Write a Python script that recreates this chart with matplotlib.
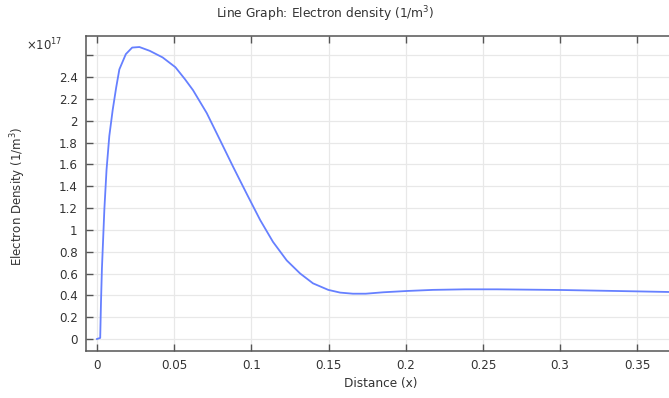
import matplotlib
matplotlib.use("Agg")
import matplotlib.pyplot as plt
import numpy as np

# electron density along the line, in units of 1e17 1/m^3
distance = [0, 0.0021, 0.0026, 0.0032, 0.0048, 0.0062, 0.008, 0.0102, 0.0124, 0.0145,
            0.0187, 0.0228, 0.0275, 0.0342, 0.0425, 0.0508, 0.057, 0.0622, 0.0711, 0.0798,
            0.0881, 0.097, 0.1057, 0.114, 0.1229, 0.1316, 0.1399, 0.1498, 0.1575, 0.1658,
            0.1741, 0.1855, 0.201, 0.2176, 0.2383, 0.2591, 0.3005, 0.3472, 0.3731]
density = [0, 0.01, 0.33, 0.64, 1.19, 1.55, 1.86, 2.10, 2.30, 2.47,
           2.61, 2.67, 2.675, 2.64, 2.58, 2.49, 2.38, 2.28, 2.07, 1.82,
           1.58, 1.33, 1.09, 0.89, 0.72, 0.60, 0.51, 0.45, 0.425, 0.415,
           0.415, 0.428, 0.44, 0.45, 0.455, 0.455, 0.449, 0.437, 0.43]

x_ticks = [0, 0.05, 0.1, 0.15, 0.2, 0.25, 0.3, 0.35]
y_ticks = np.round(np.arange(0, 2.61, 0.2), 1)
y_labels = ["%g" % v if v < 2.5 else "" for v in y_ticks]

fig = plt.figure(figsize=(6.69, 3.98), dpi=100)
ax = fig.add_axes([86 / 669, 1 - 351 / 398, 1 - 86 / 669, (351 - 36) / 398])

ax.plot(distance, density, color="#6680ff", lw=1.3)

ax.set_xlim(-0.0071, 0.3705)
ax.set_ylim(-0.11, 2.776)
ax.set_xticks(x_ticks)
ax.set_xticklabels(["%g" % v for v in x_ticks])
ax.set_yticks(y_ticks)
ax.set_yticklabels(y_labels)

ax.grid(True, color="#e8e8e8", lw=0.9)
ax.set_axisbelow(True)
ax.tick_params(direction="in", top=True, length=5, width=1,
               color="#555555", labelsize=8.6, labelcolor="#333333", pad=6)
for s in ax.spines.values():
    s.set_color("#555555")
    s.set_linewidth(1.1)
ax.spines["right"].set_visible(False)

fig.text(325 / 669, 1 - 14 / 398, "Line Graph: Electron density (1/m$^3$)",
         ha="center", va="center", fontsize=8.8, color="#333333")
fig.text(44 / 669, 1 - 45 / 398, r"$\times$10$^{17}$", ha="center", va="center",
         fontsize=8.4, color="#333333")
fig.text(18 / 669, 1 - 196 / 398, "Electron Density (1/m$^3$)", rotation=90,
         ha="center", va="center", fontsize=8.5, color="#333333")
fig.text(381 / 669, 1 - 383 / 398, "Distance (x)", ha="center", va="center",
         fontsize=8.7, color="#333333")

fig.savefig("out.png", dpi=100)
